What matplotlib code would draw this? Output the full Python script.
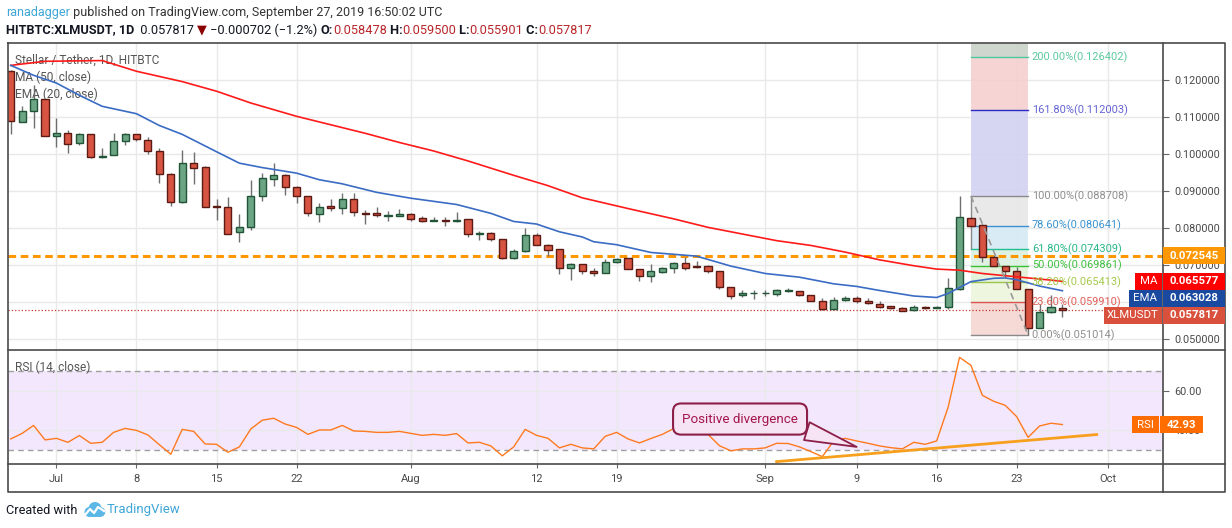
import matplotlib.pyplot as plt
import matplotlib.dates as mdates
import matplotlib.patches as mpatches
from matplotlib.lines import Line2D
import numpy as np
import pandas as pd

plt.rcParams['font.family'] = ['Roboto', 'DejaVu Sans']

# ---- data ----
dates = pd.date_range('2019-06-27', '2019-09-27', freq='D')

opens = [0.1227, 0.1088, 0.1117, 0.1150, 0.1050, 0.1058, 0.1030, 0.1055, 0.0992, 0.0999,
         0.1037, 0.1054, 0.1039, 0.1010, 0.0947, 0.0870, 0.0977, 0.0966, 0.0858, 0.0858,
         0.0789, 0.0804, 0.0886, 0.0934, 0.0945, 0.0912, 0.0887, 0.0838, 0.0860, 0.0855,
         0.0879, 0.0842, 0.0842, 0.0833, 0.0833, 0.0839, 0.0827, 0.0819, 0.0823, 0.0818,
         0.0825, 0.0784, 0.0786, 0.0770, 0.0718, 0.0737, 0.0781, 0.0754, 0.0743, 0.0691,
         0.0703, 0.0684, 0.0678, 0.0708, 0.0719, 0.0689, 0.0669, 0.0680, 0.0692, 0.0705,
         0.0695, 0.0696, 0.0684, 0.0640, 0.0620, 0.0623, 0.0623, 0.0622, 0.0629, 0.0630,
         0.0619, 0.0603, 0.0581, 0.0605, 0.0611, 0.0602, 0.0595, 0.0588, 0.0583, 0.0577,
         0.0586, 0.0583, 0.0585, 0.0634, 0.0828, 0.0809, 0.0722, 0.0697, 0.0684, 0.0635,
         0.0528, 0.0573, 0.058478]
highs = [0.1229, 0.1132, 0.1187, 0.1151, 0.1098, 0.1066, 0.1057, 0.1056, 0.1018, 0.1058,
         0.1057, 0.1056, 0.1048, 0.1018, 0.0950, 0.1013, 0.1005, 0.0967, 0.0878, 0.0884,
         0.0837, 0.0930, 0.0949, 0.0977, 0.0946, 0.0913, 0.0888, 0.0867, 0.0879, 0.0896,
         0.0896, 0.0849, 0.0856, 0.0846, 0.0853, 0.0842, 0.0833, 0.0831, 0.0829, 0.0845,
         0.0826, 0.0793, 0.0789, 0.0771, 0.0744, 0.0800, 0.0787, 0.0757, 0.0744, 0.0706,
         0.0703, 0.0693, 0.0716, 0.0719, 0.0719, 0.0690, 0.0702, 0.0695, 0.0709, 0.0722,
         0.0712, 0.0699, 0.0684, 0.0640, 0.0633, 0.0632, 0.0632, 0.0636, 0.0639, 0.0630,
         0.0619, 0.0611, 0.0612, 0.0616, 0.0616, 0.0611, 0.0603, 0.0589, 0.0586, 0.0591,
         0.0588, 0.0589, 0.0666, 0.0887, 0.0829, 0.0811, 0.0727, 0.0698, 0.0694, 0.0635,
         0.0594, 0.0618, 0.0595]
lows = [0.1056, 0.1087, 0.1071, 0.1049, 0.1019, 0.1003, 0.1025, 0.0989, 0.0991, 0.0998,
        0.1024, 0.1036, 0.1001, 0.0922, 0.0861, 0.0869, 0.0920, 0.0856, 0.0821, 0.0783,
        0.0762, 0.0794, 0.0873, 0.0914, 0.0889, 0.0868, 0.0834, 0.0816, 0.0847, 0.0837,
        0.0832, 0.0810, 0.0829, 0.0818, 0.0832, 0.0818, 0.0817, 0.0818, 0.0807, 0.0816,
        0.0775, 0.0767, 0.0765, 0.0717, 0.0717, 0.0736, 0.0753, 0.0724, 0.0676, 0.0660,
        0.0676, 0.0670, 0.0678, 0.0705, 0.0689, 0.0658, 0.0655, 0.0678, 0.0678, 0.0686,
        0.0691, 0.0678, 0.0635, 0.0607, 0.0614, 0.0607, 0.0616, 0.0615, 0.0627, 0.0616,
        0.0602, 0.0578, 0.0580, 0.0603, 0.0596, 0.0593, 0.0584, 0.0582, 0.0576, 0.0575,
        0.0582, 0.0583, 0.0582, 0.0633, 0.0806, 0.0707, 0.0697, 0.0666, 0.0634, 0.0510,
        0.0528, 0.0569, 0.055901]
closes = [0.1090, 0.1118, 0.1150, 0.1050, 0.1058, 0.1028, 0.1056, 0.0992, 0.0996, 0.1037,
          0.1054, 0.1041, 0.1010, 0.0947, 0.0872, 0.0977, 0.0963, 0.0858, 0.0857, 0.0785,
          0.0804, 0.0886, 0.0936, 0.0945, 0.0912, 0.0888, 0.0841, 0.0857, 0.0854, 0.0879,
          0.0843, 0.0838, 0.0836, 0.0833, 0.0839, 0.0826, 0.0819, 0.0822, 0.0819, 0.0822,
          0.0784, 0.0787, 0.0770, 0.0718, 0.0738, 0.0781, 0.0754, 0.0742, 0.0691, 0.0702,
          0.0684, 0.0678, 0.0708, 0.0716, 0.0689, 0.0669, 0.0684, 0.0692, 0.0705, 0.0691,
          0.0694, 0.0683, 0.0640, 0.0616, 0.0623, 0.0623, 0.0623, 0.0632, 0.0631, 0.0619,
          0.0603, 0.0581, 0.0605, 0.0611, 0.0603, 0.0596, 0.0586, 0.0583, 0.0576, 0.0586,
          0.0583, 0.0586, 0.0637, 0.0829, 0.0806, 0.0722, 0.0697, 0.0684, 0.0635, 0.0528,
          0.0573, 0.058519, 0.057817]

rsi_values = [35.7, 38.5, 42.5, 35.2, 36.0, 34.0, 37.4, 33.5, 34.0, 39.0,
              41.0, 40.0, 37.7, 32.8, 28.0, 40.5, 39.5, 33.2, 33.0, 29.0,
              31.7, 40.7, 45.1, 46.1, 43.2, 41.5, 38.0, 40.2, 40.2, 42.5,
              39.7, 39.5, 39.0, 39.0, 39.5, 38.5, 37.5, 38.0, 37.5, 38.4,
              33.7, 34.0, 32.2, 27.2, 31.7, 40.5, 37.5, 36.0, 31.2, 33.0,
              31.2, 30.7, 37.0, 39.0, 35.7, 33.7, 35.9, 38.0, 40.9, 39.2,
              40.2, 38.0, 32.3, 29.7, 30.7, 30.7, 31.2, 33.5, 33.4, 31.7,
              29.3, 26.8, 34.8, 36.0, 34.7, 33.5, 32.2, 31.3, 30.7, 34.0,
              33.0, 34.7, 51.6, 76.7, 72.7, 57.6, 54.6, 52.6, 46.9, 36.5,
              42.2, 43.6, 42.93]

ma_dates = ['2019-06-27', '2019-06-30', '2019-07-05', '2019-07-08', '2019-07-12', '2019-07-15',
            '2019-07-18', '2019-07-22', '2019-07-25', '2019-07-28', '2019-07-31', '2019-08-03',
            '2019-08-06', '2019-08-10', '2019-08-13', '2019-08-16', '2019-08-20', '2019-08-24',
            '2019-08-27', '2019-08-30', '2019-09-02', '2019-09-05', '2019-09-08', '2019-09-11',
            '2019-09-14', '2019-09-16', '2019-09-18', '2019-09-20', '2019-09-23', '2019-09-26',
            '2019-09-27']
ma_values = [0.1241, 0.1252, 0.1254, 0.1225, 0.1197, 0.1171, 0.1139, 0.1103, 0.1080, 0.1057,
             0.1032, 0.1009, 0.0982, 0.0943, 0.0915, 0.0882, 0.0853, 0.0825, 0.0802, 0.0784,
             0.0766, 0.0753, 0.0735, 0.0714, 0.0698, 0.0689, 0.0686, 0.0677, 0.0668, 0.0659,
             0.065577]

ema_dates = ['2019-06-27', '2019-06-29', '2019-07-01', '2019-07-03', '2019-07-05', '2019-07-08',
             '2019-07-10', '2019-07-12', '2019-07-15', '2019-07-17', '2019-07-19', '2019-07-22',
             '2019-07-24', '2019-07-26', '2019-07-29', '2019-08-01', '2019-08-05', '2019-08-08',
             '2019-08-10', '2019-08-12', '2019-08-14', '2019-08-16', '2019-08-17', '2019-08-19',
             '2019-08-22', '2019-08-26', '2019-08-29', '2019-09-01', '2019-09-04', '2019-09-07',
             '2019-09-09', '2019-09-11', '2019-09-14', '2019-09-16', '2019-09-17', '2019-09-18',
             '2019-09-19', '2019-09-21', '2019-09-22', '2019-09-23', '2019-09-25', '2019-09-27']
ema_values = [0.1241, 0.1214, 0.1193, 0.1160, 0.1130, 0.1110, 0.1078, 0.1054, 0.1007, 0.0976,
              0.0964, 0.0949, 0.0931, 0.0920, 0.0897, 0.0881, 0.0864, 0.0840, 0.0818, 0.0811,
              0.0790, 0.0776, 0.0763, 0.0755, 0.0734, 0.0724, 0.0697, 0.0677, 0.0667, 0.0649,
              0.0642, 0.0631, 0.0616, 0.0612, 0.0623, 0.0639, 0.0655, 0.0664, 0.0665, 0.0660,
              0.0643, 0.063028]

fib_levels = [0.0, 0.236, 0.382, 0.5, 0.618, 0.786, 1.0, 1.618, 2.0]
fib_prices = [0.051014, 0.059910, 0.065413, 0.069861, 0.074309, 0.080641, 0.088708, 0.112003, 0.126402]
fib_dates = ['2019-09-19', '2019-09-24']

resistance = 0.072545
trend_dates = ['2019-09-02', '2019-09-30']
trend_rsi = [24.3, 37.9]

price_ticks = [0.05, 0.06, 0.07, 0.08, 0.09, 0.10, 0.11, 0.12]
tick_dates = ['2019-07-01', '2019-07-08', '2019-07-15', '2019-07-22', '2019-08-01', '2019-08-12',
              '2019-08-19', '2019-09-01', '2019-09-09', '2019-09-16', '2019-09-23', '2019-10-01']
tick_labels = ['Jul', '8', '15', '22', 'Aug', '12', '19', 'Sep', '9', '16', '23', 'Oct']

# ---- layout helpers (pixel positions in a 1232x528 picture) ----
W, H = 1232, 528
def fx(px):
    return px / W
def fy(py):
    return 1 - py / H

fig = plt.figure(figsize=(W / 100, H / 100), dpi=100)
ax = fig.add_axes([fx(8), fy(350), fx(1163) - fx(8), fy(43) - fy(350)])
ax2 = fig.add_axes([fx(8), fy(464), fx(1163) - fx(8), fy(350) - fy(464)], sharex=ax)

x = mdates.date2num(dates)
o = np.array(opens); h = np.array(highs); l = np.array(lows); c = np.array(closes)
x0 = x[0]
ax.set_xlim(x0 - 0.24, x0 + 100.8)
ax.set_ylim(0.04697, 0.13016)
ax2.set_ylim(23.1, 80.4)

for a in (ax, ax2):
    for s in a.spines.values():
        s.set_visible(False)
    a.set_axisbelow(True)
    a.grid(True, color='#e9e9e9', lw=1)

tick_x = mdates.date2num(pd.to_datetime(tick_dates))
ax2.set_xticks(tick_x)
ax2.set_xticklabels(tick_labels)
ax.tick_params(axis='x', length=0, labelbottom=False)
ax2.tick_params(axis='x', length=3, color='#666666', labelsize=8, labelcolor='#4a4a4a', pad=4.5)

# the 0.06 label sits fully under the EMA / last-price tags, as in the original
ax.yaxis.tick_right()
ax.set_yticks(price_ticks)
ax.set_yticklabels(['' if abs(v - 0.06) < 1e-9 else f'{v:.6f}' for v in price_ticks])
ax2.yaxis.tick_right()
ax2.set_yticks([40, 60])
ax2.set_yticklabels(['40.00', '60.00'])
for a in (ax, ax2):
    a.tick_params(axis='y', length=4, color='#666666', labelsize=7.8, labelcolor='#4a4a4a', pad=4)

# ---- fibonacci retracement ----
fx0, fx1 = mdates.date2num(pd.to_datetime(fib_dates))
band_colors = ['#f6d6d2', '#edf5dc', '#e3f2d9', '#dcf0e0', '#d5e9f4', '#e7e7e7', '#d2d2f2', '#f4d0cf']
for i in range(len(fib_prices) - 1):
    ax.fill_between([fx0, fx1], fib_prices[i], fib_prices[i + 1], color=band_colors[i], alpha=0.9,
                    lw=0, zorder=1)
ax.fill_between([fx0, fx1], fib_prices[-1], 0.14, color='#c9d2c9', alpha=0.9, lw=0, zorder=1)
line_colors = ['#8a8a8a', '#d9534f', '#9cc34a', '#37c237', '#1fbf8f', '#3d8fd1', '#8a8a8a', '#2b2bc8', '#4cc9a0']
label_colors = ['#8f8f8f', '#e0605a', '#a5c94a', '#3fbf3f', '#29b68a', '#3c93d0', '#8f8f8f', '#6464d6', '#5fc9a0']
for lv, pr, lc, tc in zip(fib_levels, fib_prices, line_colors, label_colors):
    ax.plot([fx0, fx1], [pr, pr], color=lc, lw=1, zorder=2)
    ax.text(fx1 + 0.32, pr, f'{lv * 100:.2f}%({pr:.6f})', color=tc, fontsize=7.9,
            va='center', ha='left', zorder=6)
ax.vlines(fx0, fib_prices[4], fib_prices[6], color='#8a8a8a', lw=1, zorder=2)
ax.plot([fx0, fx1], [fib_prices[6], fib_prices[0]], color='#9a9a9a', lw=1.2, dashes=(4, 3), zorder=6)

# ---- horizontal lines ----
ax.axhline(resistance, color='#ff9800', lw=2.2, dashes=(2.5, 1.5), zorder=2)
ax.axhline(closes[-1], color='#c0392b', lw=0.9, ls=':', zorder=2)

# ---- candles ----
up = c >= o
body_bottom = np.minimum(o, c)
body_h = np.maximum(np.abs(c - o), 0.00025)
ax.vlines(x, l, h, color='#6f6f6f', lw=1, zorder=3)
ax.bar(x[up], body_h[up], bottom=body_bottom[up], width=0.62, color='#6ba583',
       edgecolor='#225437', lw=1, zorder=4)
ax.bar(x[~up], body_h[~up], bottom=body_bottom[~up], width=0.62, color='#d75442',
       edgecolor='#5b1a13', lw=1, zorder=4)

# ---- moving averages ----
ax.plot(mdates.date2num(pd.to_datetime(ma_dates)), ma_values, color='#ff1a1a', lw=1.2, zorder=5)
ax.plot(mdates.date2num(pd.to_datetime(ema_dates)), ema_values, color='#3b6cc4', lw=1.2, zorder=5)

ax.text(fx(15), fy(60), 'Stellar / Tether, 1D, HITBTC', transform=fig.transFigure,
        fontsize=8.6, color='#555555', va='center', zorder=2)
ax.text(fx(15), fy(77.7), 'MA (50, close)', transform=fig.transFigure,
        fontsize=8.6, color='#555555', va='center', zorder=2)
ax.text(fx(15), fy(94.3), 'EMA (20, close)', transform=fig.transFigure,
        fontsize=8.6, color='#555555', va='center', zorder=2)

# ---- RSI pane ----
ax2.axhspan(30, 70, color='#a24be8', alpha=0.13, lw=0, zorder=0)
ax2.axhline(70, color='#a0a0a0', lw=1, dashes=(4, 3))
ax2.axhline(30, color='#a0a0a0', lw=1, dashes=(4, 3))
ax2.plot(x, rsi_values, color='#ff7a1f', lw=1, zorder=4)
ax2.plot(mdates.date2num(pd.to_datetime(trend_dates)), trend_rsi, color='#f7a01d', lw=2, zorder=5)
ax2.text(fx(15), fy(367.7), 'RSI (14, close)', transform=fig.transFigure,
         fontsize=8.6, color='#555555', va='center', zorder=2)

tip_x = mdates.date2num(pd.Timestamp('2019-09-09'))
ax2.annotate('Positive divergence', xy=(tip_x, 31.7), xytext=(x0 + 63.8, 45.7),
             ha='center', va='center', fontsize=9.6, color='#a3164b', zorder=7,
             bbox=dict(boxstyle='round,pad=0.68,rounding_size=0.6', fc='#f6e3f3', ec='#8c1f48', lw=1.5),
             arrowprops=dict(arrowstyle='wedge,tail_width=1.4,shrink_factor=0.5', fc='#f6e3f3',
                             ec='#8c1f48', lw=1.3, relpos=(0.88, 0.12), shrinkA=0, shrinkB=0))

# ---- frame lines ----
def fline(xs, ys):
    fig.add_artist(Line2D([fx(v) for v in xs], [fy(v) for v in ys], color='#4a4a4a', lw=1.2,
                          transform=fig.transFigure))
fline([8, 1225, 1225, 8, 8], [43, 43, 492, 492, 43])
fline([8, 1225], [350, 350])
fline([8, 1225], [464, 464])
fline([1163, 1163], [43, 492])

# ---- price scale tags ----
def py_of(a, val):
    return H - a.transData.transform((x0, val))[1]

def tag(yc, text, color, xa, xb, size=8.2, name=None, name_x0=None):
    hgt = 16.5
    fig.add_artist(mpatches.Rectangle((fx(xa), fy(yc + hgt / 2)), fx(xb) - fx(xa), hgt / H,
                                      transform=fig.transFigure, color=color, lw=0, zorder=5))
    fig.text(fx((xa + xb) / 2), fy(yc), text, color='white', fontsize=size, fontweight='bold',
             ha='center', va='center', zorder=6)
    if name is not None:
        fig.add_artist(mpatches.Rectangle((fx(name_x0), fy(yc + hgt / 2)), fx(xa - 1) - fx(name_x0),
                                          hgt / H, transform=fig.transFigure, color=color, lw=0, zorder=5))
        fig.text(fx((name_x0 + xa - 1) / 2), fy(yc), name, color='white', fontsize=size,
                 ha='center', va='center', zorder=6)

tag(py_of(ax, resistance), f'{resistance:.6f}', '#ff9800', 1163, 1225)
tags = [('MA', ma_values[-1], '#ff0000', 1135), ('EMA', ema_values[-1], '#1a4aa0', 1129),
        ('XLMUSDT', closes[-1], '#d9513c', 1104)]
prev = None
for name, val, col, nx in tags:
    yc = py_of(ax, val)
    if prev is not None and yc < prev + 17:
        yc = prev + 17
    prev = yc
    tag(yc, f'{val:.6f}', col, 1163, 1225, name=name, name_x0=nx)
tag(py_of(ax2, rsi_values[-1]), f'{rsi_values[-1]:.2f}', '#ff6d00', 1160, 1203, name='RSI', name_x0=1132)

# ---- header ----
renderer = fig.canvas.get_renderer()
def run(y_px, x_px, pieces, size):
    xp = x_px
    for s, col, wt in pieces:
        t = fig.text(fx(xp), fy(y_px), s, color=col, fontweight=wt, fontsize=size, va='center', ha='left')
        xp += t.get_window_extent(renderer=renderer).width

change = closes[-1] - closes[-2]
pct = change / closes[-2] * 100
dark = '#131722'
red = '#b8262b'
run(12.7, 6, [('ranadagger', '#3ea6d8', 'normal'),
              (' published on TradingView.com, September 27, 2019 16:50:02 UTC', '#333333', 'normal')], 9.0)
run(30, 6, [('HITBTC:XLMUSDT, 1D', dark, 'bold'),
            (f'  {closes[-1]:.6f} ', dark, 'normal'), ('\u25bc', '#8b0000', 'normal'),
            (f' \u2212{abs(change):.6f} (\u2212{abs(pct):.1f}%) ', dark, 'normal'),
            ('O:', dark, 'bold'), (f'{opens[-1]:.6f}', red, 'normal'),
            (' H:', dark, 'bold'), (f'{highs[-1]:.6f}', red, 'normal'),
            (' L:', dark, 'bold'), (f'{lows[-1]:.6f}', red, 'normal'),
            (' C:', dark, 'bold'), (f'{closes[-1]:.6f}', red, 'normal')], 9.2)

# ---- footer ----
fig.text(fx(6), fy(510), 'Created with', fontsize=9.2, color='#131722', va='center', ha='left')
axl = fig.add_axes([fx(83), fy(519), fx(106) - fx(83), fy(500) - fy(519)])
axl.set_xlim(0, 23); axl.set_ylim(0, 19); axl.axis('off')
for cx, cy, r in [(6.5, 7, 5), (12, 10.5, 6.5), (17.5, 7, 4.8)]:
    axl.add_patch(mpatches.Circle((cx, cy), r, color='#5bb8e6', lw=0))
axl.add_patch(mpatches.Rectangle((6.5, 2), 11, 6, color='#5bb8e6', lw=0))
axl.plot([2, 7, 11, 15, 21], [4, 10, 6, 12, 8], color='white', lw=1.6)
fig.text(fx(107), fy(510), 'TradingView', fontsize=9.5, color='#3ea6d8', va='center', ha='left')

fig.savefig('out.png', dpi=100)
